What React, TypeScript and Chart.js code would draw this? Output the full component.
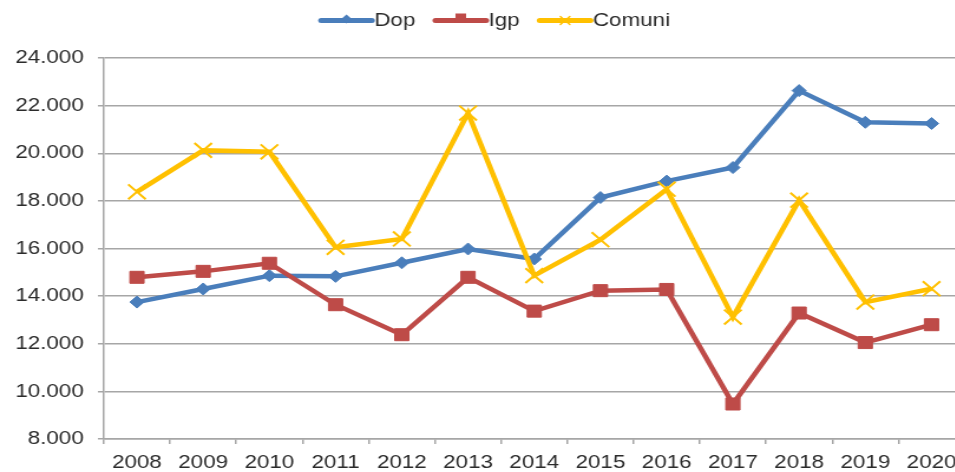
import React, { useEffect, useRef } from 'react';
import { Chart, registerables } from 'chart.js';

Chart.register(...registerables);

// ---- data ----
const years = ['2008', '2009', '2010', '2011', '2012', '2013', '2014', '2015', '2016', '2017', '2018', '2019', '2020'];
const dop = [13750, 14300, 14860, 14830, 15400, 15980, 15560, 18140, 18830, 19400, 22630, 21300, 21250];
const igp = [14790, 15040, 15380, 13640, 12380, 14790, 13370, 14230, 14280, 9470, 13290, 12050, 12800];
const comuni = [18380, 20120, 20060, 16050, 16400, 21690, 14860, 16370, 18490, 13120, 18030, 13750, 14310];
const seriesNames = ['Dop', 'Igp', 'Comuni'];
const yMin = 8000;
const yMax = 24000;
const yStep = 2000;

// ---- style ----
const BLUE = '#4a7ebb';
const RED = '#be4b48';
const YELLOW = '#ffc000';
const GRID = '#a6a6a6';
const TEXT = '#2b2b2b';
const FONT = "'Liberation Sans', Arial, sans-serif";
const STRETCH = 1.18;
const CW = 830;
const CH = 472;

function fmt(v: number): string {
  const k = Math.floor(v / 1000);
  const r = Math.round(v % 1000);
  return `${k}.${String(r).padStart(3, '0')}`;
}

function drawMarker(ctx: CanvasRenderingContext2D, style: string, x: number, y: number, color: string) {
  ctx.save();
  ctx.fillStyle = color;
  ctx.strokeStyle = color;
  if (style === 'rectRot') {
    const r = 4.5;
    const cy = y - 1.5;
    ctx.beginPath();
    ctx.moveTo(x, cy - r);
    ctx.lineTo(x + r, cy);
    ctx.lineTo(x, cy + r);
    ctx.lineTo(x - r, cy);
    ctx.closePath();
    ctx.fill();
  } else if (style === 'rect') {
    const h = 4.5;
    ctx.fillRect(x - h, y - 7, 2 * h, 9);
  } else {
    const h = 4;
    ctx.lineWidth = 1.5;
    ctx.beginPath();
    ctx.moveTo(x - h, y - h);
    ctx.lineTo(x + h, y + h);
    ctx.moveTo(x + h, y - h);
    ctx.lineTo(x - h, y + h);
    ctx.stroke();
  }
  ctx.restore();
}

const legendPlugin = {
  id: 'lineLegend',
  afterDraw(chart: any) {
    const ctx: CanvasRenderingContext2D = chart.ctx;
    ctx.save();
    ctx.font = `19px ${FONT}`;
    const lineLen = 43;
    const gap = 2;
    const itemGap = 17;
    const items = chart.data.datasets.map((ds: any) => ({
      label: ds.label,
      color: ds.borderColor,
      style: ds.pointStyle,
      w: lineLen + gap + ctx.measureText(ds.label).width,
    }));
    const total = items.reduce((a: number, b: any) => a + b.w, 0) + itemGap * (items.length - 1);
    let x = 420 - total / 2;
    const y = 20.5;
    for (const it of items) {
      ctx.strokeStyle = it.color;
      ctx.lineWidth = 5;
      ctx.lineCap = 'round';
      ctx.beginPath();
      ctx.moveTo(x, y);
      ctx.lineTo(x + lineLen, y);
      ctx.stroke();
      drawMarker(ctx, it.style, x + lineLen / 2, y, it.color);
      ctx.fillStyle = TEXT;
      ctx.textBaseline = 'middle';
      ctx.textAlign = 'left';
      ctx.fillText(it.label, x + lineLen + gap, y);
      x += it.w + itemGap;
    }
    ctx.restore();
  },
};

export default function App() {
  const ref = useRef<HTMLCanvasElement>(null);
  useEffect(() => {
    if (!ref.current) return;
    const font = { family: FONT, size: 19 };
    const chart = new Chart(ref.current, {
      type: 'line',
      data: {
        labels: years,
        datasets: [
          {
            label: seriesNames[0],
            data: dop,
            borderColor: BLUE,
            backgroundColor: BLUE,
            borderWidth: 4.5,
            pointStyle: 'rectRot',
            pointRadius: 6,
            pointBorderWidth: 1,
            pointBorderColor: BLUE,
            pointBackgroundColor: BLUE,
            tension: 0,
            order: 2,
          },
          {
            label: seriesNames[1],
            data: igp,
            borderColor: RED,
            backgroundColor: RED,
            borderWidth: 4.5,
            pointStyle: 'rect',
            pointRadius: 8.5,
            pointBorderWidth: 1,
            pointBorderColor: RED,
            pointBackgroundColor: RED,
            tension: 0,
            order: 1,
          },
          {
            label: seriesNames[2],
            data: comuni,
            borderColor: YELLOW,
            backgroundColor: YELLOW,
            borderWidth: 4.5,
            pointStyle: 'crossRot',
            pointRadius: 10.5,
            pointBorderWidth: 2,
            pointBorderColor: YELLOW,
            tension: 0,
            order: 0,
          },
        ],
      },
      options: {
        responsive: false,
        animation: false,
        devicePixelRatio: 1,
        layout: { padding: { top: 58, right: 5, left: 0, bottom: 0 } },
        plugins: {
          legend: { display: false },
          tooltip: { enabled: false },
          title: { display: false },
        },
        scales: {
          x: {
            offset: true,
            grid: {
              offset: true,
              drawOnChartArea: false,
              tickLength: 5,
              tickColor: GRID,
              color: GRID,
              lineWidth: 1.5,
            },
            border: { display: true, color: GRID, width: 1.5 },
            ticks: { font, color: TEXT, padding: 7, autoSkip: false, maxRotation: 0 },
            afterFit: (s: any) => {
              s.height = 33;
            },
          },
          y: {
            min: yMin,
            max: yMax,
            ticks: {
              stepSize: yStep,
              font,
              color: TEXT,
              padding: 12,
              callback: (v: any) => fmt(Number(v)),
            },
            grid: {
              color: GRID,
              tickColor: GRID,
              tickLength: 5,
              lineWidth: 1.5,
            },
            border: { display: true, color: GRID, width: 1.5 },
            afterFit: (s: any) => {
              s.width = 88;
            },
          },
        },
      },
      plugins: [legendPlugin],
    } as any);
    return () => chart.destroy();
  }, []);

  return (
    <div
      style={{
        position: 'fixed',
        left: 0,
        top: 0,
        width: 955,
        height: 472,
        overflow: 'hidden',
        background: '#ffffff',
      }}
    >
      <canvas
        ref={ref}
        width={CW}
        height={CH}
        style={{ display: 'block', transform: `scaleX(${STRETCH})`, transformOrigin: '0 0' }}
      />
    </div>
  );
}
